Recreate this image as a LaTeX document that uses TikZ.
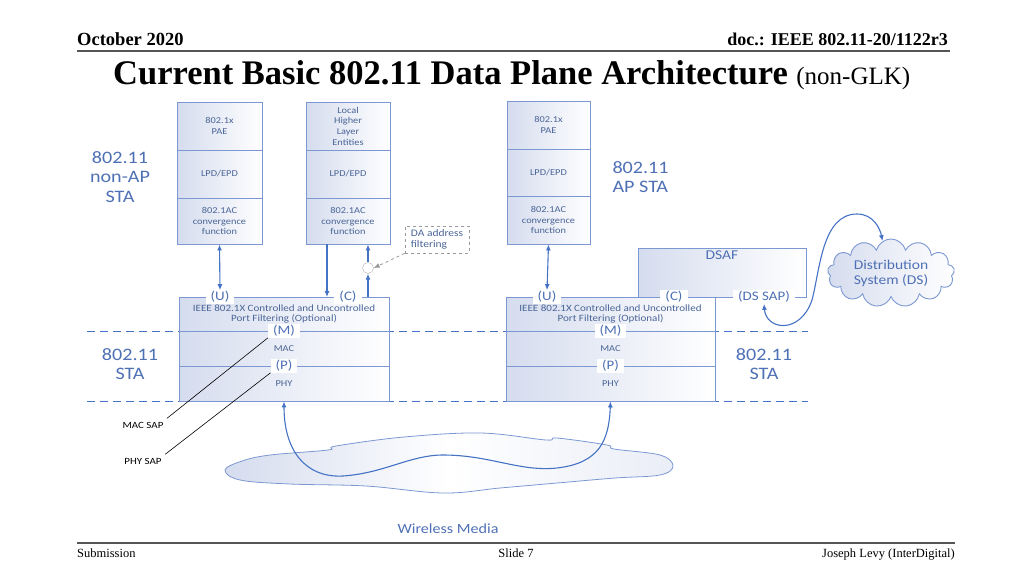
\documentclass[tikz,border=0pt]{standalone}
\usepackage{fontspec}
\setmainfont{Carlito}[FakeStretch=1.15]
\newfontfamily\timesfont{Liberation Serif}
\usetikzlibrary{arrows.meta,shapes.symbols}

\definecolor{lineblue}{HTML}{4472C4}
\definecolor{boxline}{HTML}{7C98D2}
\definecolor{txtblue}{HTML}{4A6597}
\definecolor{labelblue}{HTML}{4E70B5}
\definecolor{shadeblue}{HTML}{D5DCEE}
\definecolor{rulegray}{HTML}{555555}

\tikzset{
  layer/.style={draw=boxline, line width=0.9pt, left color=shadeblue, right color=white,
    text=txtblue, align=center, inner sep=0pt, font=\fontsize{9}{10.7}\selectfont},
  sap/.style={fill=white, inner xsep=5pt, inner ysep=1pt, text=labelblue,
    font=\fontsize{13}{14}\selectfont},
  stalabel/.style={text=labelblue, font=\fontsize{17.5}{19.5}\selectfont},
  link/.style={draw=lineblue, line width=1.1pt},
}

\begin{document}
\begin{tikzpicture}[x=1pt,y=-1pt,>={Latex[length=6pt,width=5pt]}]
  \useasboundingbox (0,0) rectangle (1024,576);
  % header
  \node[anchor=base west, font=\timesfont\bfseries\fontsize{18.5}{20}\selectfont, inner sep=0pt] (date) at (77,45) {October 2020};
  \node[anchor=base east, font=\timesfont\bfseries\fontsize{18}{20}\selectfont, inner sep=0pt] (doc) at (948,45) {doc.: IEEE 802.11-20/1122r3};
  \draw[rulegray, line width=1.5pt] (77,51) -- (950,51);
  \node[anchor=base west, font=\timesfont\bfseries\fontsize{34.5}{36}\selectfont, inner sep=0pt] (title) at (113,84)
    {Current Basic 802.11 Data Plane Architecture {\mdseries\fontsize{25}{27}\selectfont (non-GLK)}};
  % guide lines
  \draw[lineblue, line width=0.9pt, dash pattern=on 8pt off 5pt] (87,331) -- (808,331);
  \draw[lineblue, line width=0.9pt, dash pattern=on 8pt off 5pt] (87,401) -- (808,401);
  % upper stacks
  \node[layer, minimum width=85, minimum height=48] (paeL) at (219.5,126) {802.1x\\PAE};
  \node[layer, minimum width=85, minimum height=48] (lpdL) at (219.5,174) {LPD/EPD};
  \node[layer, minimum width=85, minimum height=46] (acL) at (219.5,221) {802.1AC\\convergence\\function};
  \node[layer, minimum width=84, minimum height=48] (hleM) at (348,126) {Local\\Higher\\Layer\\Entities};
  \node[layer, minimum width=84, minimum height=48] (lpdM) at (348,174) {LPD/EPD};
  \node[layer, minimum width=84, minimum height=46] (acM) at (348,221) {802.1AC\\convergence\\function};
  \node[layer, minimum width=83, minimum height=48] (paeR) at (548.5,125) {802.1x\\PAE};
  \node[layer, minimum width=83, minimum height=47] (lpdR) at (548.5,172.5) {LPD/EPD};
  \node[layer, minimum width=83, minimum height=48] (acR) at (548.5,220) {802.1AC\\convergence\\function};
  % station labels
  \node[stalabel, align=center] (nonap) at (120,177) {802.11\\non-AP\\STA};
  \node[stalabel, align=left, anchor=west] (apsta) at (609,177) {802.11\\AP STA};
  \node[stalabel, align=center] (staL) at (130,364) {802.11\\STA};
  \node[stalabel, align=center] (staR) at (764,364) {802.11\\STA};
  % DSAF
  \node[layer, minimum width=168, minimum height=49,
    label={[anchor=north, text=labelblue, font=\fontsize{13.5}{14}\selectfont, inner sep=3pt]north:DSAF}] (dsaf) at (722,272.5) {};
  % lower boxes
  \node[layer, minimum width=210, minimum height=34, font=\fontsize{9.6}{10.5}\selectfont] (portL) at (284,314)
    {IEEE 802.1X Controlled and Uncontrolled\\Port Filtering (Optional)};
  \node[layer, minimum width=210, minimum height=35] (macL) at (284,348.5) {MAC};
  \node[layer, minimum width=210, minimum height=35] (phyL) at (284,383.5) {PHY};
  \node[layer, minimum width=209, minimum height=34, font=\fontsize{9.6}{10.5}\selectfont] (portR) at (610.5,314)
    {IEEE 802.1X Controlled and Uncontrolled\\Port Filtering (Optional)};
  \node[layer, minimum width=209, minimum height=35] (macR) at (610.5,348.5) {MAC};
  \node[layer, minimum width=209, minimum height=35] (phyR) at (610.5,383.5) {PHY};
  % service access points
  \node[sap] (uL) at (220,297) {(U)};
  \node[sap] (cL) at (348,297) {(C)};
  \node[sap] (mL) at (284,331) {(M)};
  \node[sap] (pL) at (284,366) {(P)};
  \node[sap] (uR) at (547,297) {(U)};
  \node[sap] (cR) at (674,297) {(C)};
  \node[sap] (mR) at (610.5,331) {(M)};
  \node[sap] (pR) at (610.5,366) {(P)};
  \node[sap] (dsap) at (764,297) {(DS SAP)};
  % DA filtering
  \node[draw=gray!80, dashed, line width=0.8pt, minimum width=64, minimum height=27, align=left, text=txtblue,
    font=\fontsize{10}{11}\selectfont, inner sep=2pt] (daf) at (437,239.5) {DA address\\ filtering};
  \node[circle, draw=gray!60, fill=white, minimum size=11, inner sep=0pt] (flt) at (368,268) {};
  \coordinate (cdn) at (327,297);
  \coordinate (cup) at (368,297);
  \draw[link,<->] (acL.south) -- (uL.north);
  \draw[link,<->] (acR.south) -- (uR.north);
  \draw[link,->] (acM.south -| cdn) -- (cdn);
  \draw[link,->] (cup) -- (flt);
  \draw[link,->] (flt) -- (flt |- acM.south);
  \draw[gray!80, dashed, line width=0.8pt, ->] (daf.south west) -- (flt.east);
  % SAP pointers
  \node[font=\fontsize{9.5}{10}\selectfont] (macsap) at (143,425) {MAC SAP};
  \node[font=\fontsize{9.5}{10}\selectfont] (physap) at (143,461) {PHY SAP};
  \draw[black, line width=0.6pt] (macsap.north east) -- (mL.south west);
  \draw[black, line width=0.6pt] (physap.north east) -- (pL.south west);
  % distribution system
  \node[cloud, cloud puffs=13, aspect=2.1, draw=boxline, line width=0.9pt, left color=shadeblue, right color=white,
    minimum width=127, minimum height=62, inner sep=0pt, align=center, text=labelblue,
    font=\fontsize{13.5}{15}\selectfont] (ds) at (891,273) {Distribution\\System (DS)};
  \draw[link,<->] (dsap.south) .. controls (766,330) and (800,335) .. (812,300)
    .. controls (820,270) and (822,214) .. (857,214) .. controls (873,214) and (880,228) .. (ds.105);
  % wireless media
  \draw[draw=boxline, line width=0.8pt, left color=shadeblue, right color=shadeblue!50!white, middle color=white]
    plot[smooth cycle, tension=0.6] coordinates {(225,470) (242,461) (270,455) (328,450) (336,446) (404,437)
      (481,433) (546,440) (557,438) (607,445) (614,449) (660,455) (673,466) (660,475) (615,478) (557,483)
      (500,488) (443,493) (366,486) (290,484) (240,480)};
  \draw[link,<->] (phyL.south) .. controls (284,450) and (305,478) .. (343,476)
    .. controls (385,473) and (410,455) .. (443,455) .. controls (490,455) and (520,472) .. (557,468)
    .. controls (600,463) and (609,440) .. (phyR.south);
  \node[text=labelblue, font=\fontsize{14}{15}\selectfont] (wm) at (448,529) {Wireless Media};
  % footer
  \draw[rulegray, line width=2.5pt] (77,543) -- (955,543);
  \node[anchor=base west, font=\timesfont\fontsize{12.5}{14}\selectfont, inner sep=0pt] (sub) at (77,557) {Submission};
  \node[anchor=base, font=\timesfont\fontsize{12.5}{14}\selectfont, inner sep=0pt] (slide) at (516,557) {Slide 7};
  \node[anchor=base east, font=\timesfont\fontsize{12.5}{14}\selectfont, inner sep=0pt] (auth) at (955,557) {Joseph Levy (InterDigital)};
\end{tikzpicture}
\end{document}
